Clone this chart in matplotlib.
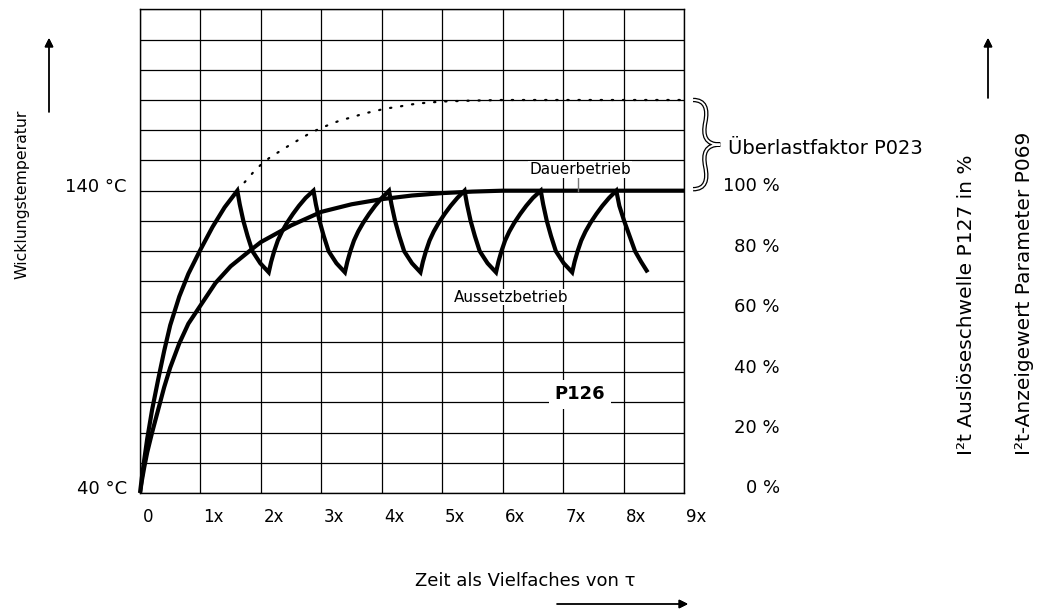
import matplotlib as mpl
mpl.use('Agg')
import matplotlib.pyplot as plt
from matplotlib.path import Path
from matplotlib.patches import PathPatch

W, H = 1039, 611

# x axis: time in multiples of tau, y axis: % of the I2t trip threshold
tau_ticks = [0, 1, 2, 3, 4, 5, 6, 7, 8, 9]
tau_labels = ["0", "1x", "2x", "3x", "4x", "5x", "6x", "7x", "8x", "9x"]
pct_ticks = [0, 20, 40, 60, 80, 100]
pct_labels = ["0 %", "20 %", "40 %", "60 %", "80 %", "100 %"]
temp_ticks = [0, 100]
temp_labels = ["40 °C", "140 °C"]

# continuous duty (Dauerbetrieb)
t_dauer = [0, 0.03, 0.07, 0.12, 0.2, 0.3, 0.4, 0.5, 0.65, 0.8, 1.0, 1.25, 1.5,
           1.84, 2.0, 2.5, 3.0, 3.5, 4.0, 4.5, 5.0, 5.5, 6.0, 9.0]
y_dauer = [0, 4, 8.5, 13.5, 20, 27.5, 35, 41.5, 49.5, 56, 62, 69.5, 75,
           80.5, 83, 88.5, 93, 95.5, 97.2, 98.4, 99.2, 99.7, 100, 100]

# intermittent duty (Aussetzbetrieb)
t_aus = [0, 0.03, 0.07, 0.12, 0.2, 0.3, 0.4, 0.5, 0.65, 0.8, 1.0, 1.2, 1.4, 1.61,
         1.65, 1.71, 1.78, 1.86, 1.99, 2.13,
         2.17, 2.22, 2.28, 2.35, 2.43, 2.53, 2.63, 2.74, 2.87,
         2.91, 2.97, 3.04, 3.12, 3.25, 3.39,
         3.43, 3.48, 3.54, 3.61, 3.69, 3.79, 3.89, 4.00, 4.12,
         4.16, 4.22, 4.29, 4.37, 4.50, 4.64,
         4.68, 4.73, 4.79, 4.86, 4.94, 5.04, 5.14, 5.25, 5.37,
         5.41, 5.47, 5.54, 5.62, 5.75, 5.89,
         5.93, 5.98, 6.04, 6.11, 6.19, 6.29, 6.39, 6.50, 6.63,
         6.67, 6.73, 6.80, 6.88, 7.01, 7.15,
         7.19, 7.24, 7.30, 7.37, 7.45, 7.55, 7.65, 7.76, 7.88,
         7.93, 8.01, 8.10, 8.19, 8.29, 8.40]
y_aus = [0, 5, 11, 18, 27.5, 37.5, 47, 55.5, 65, 72.5, 80.5, 88, 94.5, 100,
         95.5, 90, 85, 80, 76, 73,
         76.5, 80, 83.5, 86.5, 89.3, 92.3, 95, 97.6, 100,
         95.5, 90, 85, 80, 76, 73,
         76.5, 80, 83.5, 86.5, 89.3, 92.3, 95, 97.6, 100,
         95.5, 90, 85, 80, 76, 73,
         76.5, 80, 83.5, 86.5, 89.3, 92.3, 95, 97.6, 100,
         95.5, 90, 85, 80, 76, 73,
         76.5, 80, 83.5, 86.5, 89.3, 92.3, 95, 97.6, 100,
         95.5, 90, 85, 80, 76, 73,
         76.5, 80, 83.5, 86.5, 89.3, 92.3, 95, 97.6, 100,
         95, 90, 85, 80, 76.5, 73]

# heating curve with overload factor (dotted)
t_over = [1.61, 1.74, 1.87, 2.0, 2.15, 2.31, 2.47, 2.64, 2.81, 2.98, 3.15, 3.32,
          3.51, 3.70, 3.88, 4.07, 4.26, 4.44, 4.63, 5.0, 5.5, 6.0, 9.0]
y_over = [100, 103, 106, 108.6, 111, 113, 115, 117, 119, 120.6, 122, 123.3,
          124.3, 125.5, 126.3, 127.2, 127.7, 128.4, 128.9, 129.5, 129.8, 130, 130]
overload_pct = 130


def fx(px):
    return px / W


def fy(py):
    return 1 - py / H


plt.rcParams['font.family'] = ['DejaVu Sans']

fig = plt.figure(figsize=(W / 100, H / 100), dpi=100)
ax = fig.add_axes([fx(140), fy(493), (684 - 140) / W, (493 - 9.3) / H])
ax.set_xlim(0, 9)
ax.set_ylim(0, 160)
ax.set_xticks(tau_ticks)
ax.set_yticks(range(0, 161, 10))
ax.tick_params(length=0, labelbottom=False, labelleft=False)
ax.grid(True, color='black', lw=0.9)
for s in ax.spines.values():
    s.set_linewidth(1.0)

ax.plot(t_dauer, y_dauer, color='black', lw=3.0, solid_capstyle='butt')
ax.plot(t_aus, y_aus, color='black', lw=3.0, solid_joinstyle='miter',
        solid_capstyle='butt', clip_on=False)
ax.plot(t_over, y_over, color='black', lw=1.6, linestyle=(0, (0.6, 4.4)),
        dash_capstyle='round')

# text labels inside the grid
ax.text(7.28, 107, "Dauerbetrieb", fontsize=11, ha='center', va='center',
        bbox=dict(fc='white', ec='none', pad=0.5))
ax.plot([7.24, 7.24], [100, 104.3], color='#777777', lw=1.0)
ax.text(6.14, 64.8, "Aussetzbetrieb", fontsize=11, ha='center', va='center',
        bbox=dict(fc='white', ec='none', pad=0.5))
ax.text(7.28, 32.6, "P126", fontsize=13, fontweight='bold', ha='center',
        va='center', bbox=dict(fc='white', ec='none', pad=4))

# tick labels
xt = ax.get_xaxis_transform()
yt = ax.get_yaxis_transform()
for t, lab in zip(tau_ticks, tau_labels):
    ax.text(t + 0.04, -0.05, lab, transform=xt, fontsize=12,
            ha='left', va='center')
for v, lab in zip(temp_ticks, temp_labels):
    ax.text(-0.024, v + 1.2, lab, transform=yt, fontsize=13,
            ha='right', va='center')
for v, lab in zip(pct_ticks, pct_labels):
    ax.text(1.176, v + 1.5, lab, transform=yt, fontsize=13,
            ha='right', va='center')

# curly brace marking the overload band
x0, x1 = 9.15, 9.6
y0, y1 = 100.5, overload_pct
uv = [(0, 1), (0.45, 1), (0.55, 0.9), (0.45, 0.75),
      (0.35, 0.6), (0.45, 0.5), (1, 0.5),
      (0.45, 0.5), (0.35, 0.4), (0.45, 0.25),
      (0.55, 0.1), (0.45, 0), (0, 0)]
verts = [(x0 + u * (x1 - x0), y0 + v * (y1 - y0)) for u, v in uv]
codes = [Path.MOVETO] + [Path.CURVE4] * 12
for lw, col in [(3.2, 'black'), (1.4, 'white')]:
    ax.add_patch(PathPatch(Path(verts, codes), fc='none', ec=col, lw=lw,
                           clip_on=False, capstyle='butt'))
ax.text(9.73, 114, "Überlastfaktor P023", fontsize=14, ha='left', va='center')

# axis titles and direction arrows
fig.text(fx(22), fy(194), "Wicklungstemperatur", rotation=90, fontsize=11.3,
         ha='center', va='center')
fig.text(fx(967), fy(455), "I²t Auslöseschwelle P127 in %", rotation=90,
         fontsize=14.5, ha='center', va='bottom')
fig.text(fx(1025), fy(455), "I²t-Anzeigewert Parameter P069", rotation=90,
         fontsize=14.5, ha='center', va='bottom')
fig.text(fx(525), fy(581), "Zeit als Vielfaches von τ", fontsize=13,
         ha='center', va='center')

arrow = dict(arrowstyle='-|>', color='black', lw=1.0, mutation_scale=13,
             shrinkA=0, shrinkB=0)
fig.add_artist(plt.annotate("", xy=(fx(49), fy(38)), xytext=(fx(49), fy(112)),
                            xycoords='figure fraction', arrowprops=arrow))
fig.add_artist(plt.annotate("", xy=(fx(988), fy(38)), xytext=(fx(988), fy(98)),
                            xycoords='figure fraction', arrowprops=arrow))
fig.add_artist(plt.annotate("", xy=(fx(688), fy(604)), xytext=(fx(557), fy(604)),
                            xycoords='figure fraction', arrowprops=arrow))

plt.savefig("out.png", dpi=100)
